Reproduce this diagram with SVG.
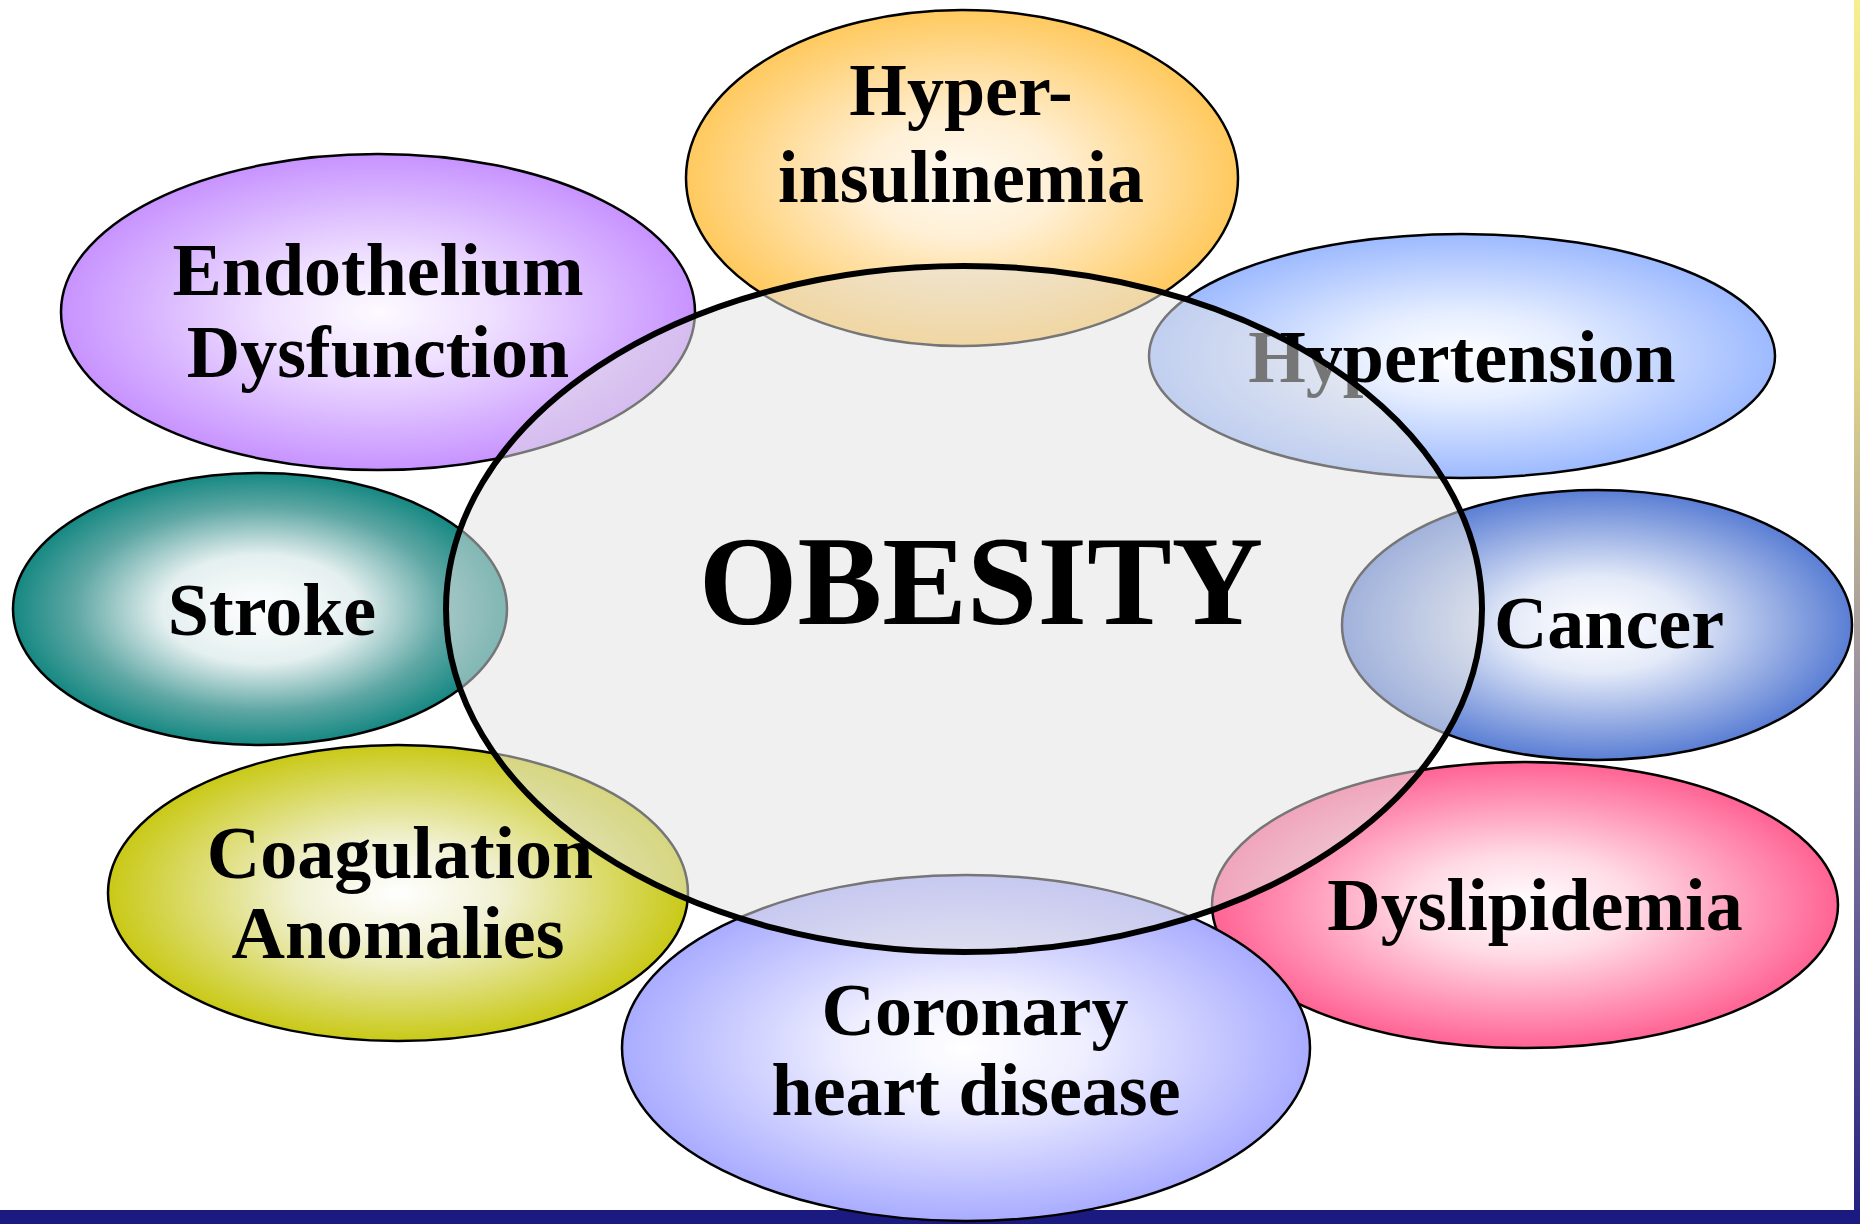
<svg xmlns="http://www.w3.org/2000/svg" width="1860" height="1224" viewBox="0 0 1860 1224">
<style>
.oval{stroke:#000;stroke-width:2.5}
.lbl{font-family:"Liberation Serif","Times New Roman",serif;font-weight:bold;font-size:74px;fill:#000;text-anchor:middle}
.big{font-family:"Liberation Serif","Times New Roman",serif;font-weight:bold;font-size:127px;fill:#000;text-anchor:middle}
</style>
<defs>
<radialGradient id="gOrange"><stop offset="0" stop-color="#fffaf0"/><stop offset="0.35" stop-color="#fff0d6"/><stop offset="1" stop-color="#ffc95e"/></radialGradient>
<radialGradient id="gPurple"><stop offset="0" stop-color="#fdfaff"/><stop offset="0.35" stop-color="#efe0ff"/><stop offset="1" stop-color="#c793ff"/></radialGradient>
<radialGradient id="gLblue"><stop offset="0" stop-color="#ffffff"/><stop offset="0.35" stop-color="#e6eeff"/><stop offset="1" stop-color="#9dbaff"/></radialGradient>
<radialGradient id="gTeal"><stop offset="0" stop-color="#ffffff"/><stop offset="0.4" stop-color="#e4efef"/><stop offset="0.75" stop-color="#5ea7a4"/><stop offset="1" stop-color="#168882"/></radialGradient>
<radialGradient id="gBlue"><stop offset="0" stop-color="#ffffff"/><stop offset="0.35" stop-color="#e4eaf8"/><stop offset="1" stop-color="#5a7ed4"/></radialGradient>
<radialGradient id="gYellow"><stop offset="0" stop-color="#ffffff"/><stop offset="0.35" stop-color="#f1f1d4"/><stop offset="1" stop-color="#c9c917"/></radialGradient>
<radialGradient id="gPink"><stop offset="0" stop-color="#ffffff"/><stop offset="0.35" stop-color="#ffdbe6"/><stop offset="1" stop-color="#ff6394"/></radialGradient>
<radialGradient id="gPeri"><stop offset="0" stop-color="#ffffff"/><stop offset="0.35" stop-color="#eeeeff"/><stop offset="1" stop-color="#a9acff"/></radialGradient>
<linearGradient id="gSide" x1="0" y1="0" x2="0" y2="1"><stop offset="0" stop-color="#f6ee90"/><stop offset="0.3" stop-color="#e2d68a"/><stop offset="0.6" stop-color="#8f85a2"/><stop offset="1" stop-color="#222080"/></linearGradient>
</defs>
<rect x="0" y="0" width="1860" height="1224" fill="#ffffff"/>
<rect x="1854" y="0" width="6" height="1224" fill="url(#gSide)"/>
<rect x="0" y="1210" width="1860" height="14" fill="#1b1a80"/>

<g id="dyslipidemia">
<ellipse class="oval" cx="1525" cy="905" rx="313" ry="143" fill="url(#gPink)"/>
<text class="lbl" x="1535" y="930">Dyslipidemia</text>
</g>
<g id="coronary">
<ellipse class="oval" cx="966" cy="1048" rx="344" ry="173" fill="url(#gPeri)"/>
<text class="lbl" x="975" y="1035">Coronary</text>
<text class="lbl" x="976" y="1115">heart disease</text>
</g>
<g id="coagulation">
<ellipse class="oval" cx="398" cy="893" rx="290" ry="148" fill="url(#gYellow)"/>
<text class="lbl" x="400" y="878">Coagulation</text>
<text class="lbl" x="398" y="958">Anomalies</text>
</g>
<g id="stroke">
<ellipse class="oval" cx="260" cy="609" rx="247" ry="136" fill="url(#gTeal)"/>
<text class="lbl" x="272" y="635">Stroke</text>
</g>
<g id="endothelium">
<ellipse class="oval" cx="378" cy="312" rx="317" ry="158" fill="url(#gPurple)"/>
<text class="lbl" x="378" y="295">Endothelium</text>
<text class="lbl" x="378" y="377">Dysfunction</text>
</g>
<g id="hyperinsulinemia">
<ellipse class="oval" cx="962" cy="178" rx="276" ry="168" fill="url(#gOrange)"/>
<text class="lbl" x="961" y="115">Hyper-</text>
<text class="lbl" x="961" y="202">insulinemia</text>
</g>
<g id="hypertension">
<ellipse class="oval" cx="1462" cy="356" rx="313" ry="122" fill="url(#gLblue)"/>
<text class="lbl" x="1462" y="382">Hypertension</text>
</g>
<g id="cancer">
<ellipse class="oval" cx="1597" cy="625" rx="255" ry="135" fill="url(#gBlue)"/>
<text class="lbl" x="1609" y="648">Cancer</text>
</g>

<g id="obesity">
<ellipse cx="964" cy="609" rx="518" ry="343" fill="#e2e2e2" fill-opacity="0.52" stroke="#000" stroke-width="6"/>
<text class="big" x="981" y="624">OBESITY</text>
</g>
</svg>
